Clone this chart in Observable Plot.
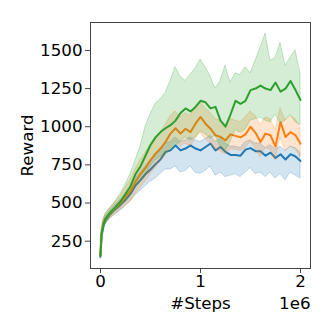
<!DOCTYPE html>
<html>
<head>
<meta charset="utf-8">
<script src="https://cdn.jsdelivr.net/npm/d3@7"></script>
<script src="https://cdn.jsdelivr.net/npm/@observablehq/plot@0.6"></script>
<style>
  html, body { margin: 0; padding: 0; background: #fff; }
  #chart { width: 332px; height: 332px; }
  #chart svg, #chart svg text, #chart svg g { font-family: "DejaVu Sans", sans-serif !important; }
</style>
</head>
<body>
<div id="chart"></div>
<script>
// steps in millions
const steps = [0, 0.01, 0.03, 0.05, 0.1, 0.15, 0.2, 0.25, 0.3, 0.35, 0.4, 0.45, 0.5, 0.55, 0.6, 0.65, 0.7, 0.75, 0.8, 0.85, 0.9, 0.95, 1.0, 1.05, 1.1, 1.15, 1.2, 1.25, 1.3, 1.35, 1.4, 1.45, 1.5, 1.55, 1.6, 1.65, 1.7, 1.75, 1.8, 1.85, 1.9, 1.95, 2.0];

const blueMean = [150, 280, 350, 385, 430, 460, 490, 520, 560, 615, 650, 690, 720, 755, 785, 835, 845, 878, 845, 857, 878, 857, 845, 867, 890, 845, 867, 835, 815, 815, 810, 850, 860, 840, 840, 810, 830, 795, 820, 785, 820, 805, 775];
const blueHi   = [165, 305, 375, 410, 455, 490, 520, 555, 600, 660, 700, 740, 780, 810, 840, 890, 900, 930, 900, 910, 930, 910, 900, 920, 940, 900, 920, 890, 870, 870, 860, 900, 910, 890, 890, 860, 880, 850, 870, 840, 870, 860, 830];
const blueLo   = [135, 255, 325, 360, 400, 425, 450, 480, 510, 550, 580, 610, 640, 660, 690, 720, 720, 740, 700, 710, 740, 700, 690, 710, 740, 680, 700, 670, 680, 690, 670, 700, 730, 690, 700, 670, 700, 660, 690, 650, 700, 680, 660];

const orangeMean = [160, 300, 370, 395, 435, 470, 500, 540, 580, 640, 690, 730, 780, 824, 857, 900, 955, 990, 955, 987, 965, 1020, 1064, 1020, 987, 944, 933, 911, 950, 940, 930, 950, 1000, 960, 900, 955, 944, 870, 1030, 933, 965, 944, 889];
const orangeHi   = [175, 330, 400, 425, 470, 510, 545, 600, 650, 720, 780, 830, 880, 930, 960, 1010, 1070, 1100, 1060, 1090, 1070, 1120, 1160, 1120, 1090, 1050, 1040, 1010, 1050, 1040, 1030, 1060, 1100, 1070, 1010, 1060, 1050, 980, 1120, 1040, 1070, 1050, 990];
const orangeLo   = [145, 270, 340, 365, 400, 430, 455, 480, 510, 560, 600, 640, 690, 730, 770, 810, 860, 900, 870, 890, 870, 920, 960, 920, 890, 850, 840, 820, 850, 850, 840, 860, 900, 860, 800, 860, 850, 780, 930, 840, 870, 850, 800];

const greenMean = [155, 290, 360, 400, 440, 475, 510, 560, 610, 690, 740, 810, 880, 930, 965, 990, 1010, 1040, 1090, 1120, 1100, 1130, 1170, 1160, 1120, 1130, 1040, 1000, 1080, 1170, 1150, 1170, 1240, 1250, 1270, 1250, 1240, 1290, 1230, 1250, 1300, 1240, 1175];
const greenHi   = [170, 320, 390, 430, 470, 510, 560, 620, 690, 780, 870, 1000, 1080, 1150, 1180, 1220, 1300, 1390, 1330, 1300, 1340, 1380, 1440, 1390, 1330, 1250, 1300, 1400, 1290, 1350, 1340, 1390, 1350, 1430, 1520, 1610, 1430, 1450, 1550, 1400, 1450, 1500, 1350];
const greenLo   = [140, 260, 330, 370, 410, 445, 470, 510, 550, 610, 640, 680, 740, 780, 800, 820, 840, 870, 900, 930, 910, 930, 970, 950, 920, 940, 870, 840, 900, 980, 960, 980, 1040, 1050, 1060, 1040, 1030, 1080, 1020, 1040, 1080, 1030, 1010];

const xTicks = [0, 1e6, 2e6];
const xTickLabels = ["0", "1", "2"];
const yTicks = [250, 500, 750, 1000, 1250, 1500];

const series = [
  {name: "blue", color: "#1f77b4", mean: blueMean, lo: blueLo, hi: blueHi},
  {name: "orange", color: "#ff7f0e", mean: orangeMean, lo: orangeLo, hi: orangeHi},
  {name: "green", color: "#2ca02c", mean: greenMean, lo: greenLo, hi: greenHi}
];

const marks = [];
for (const s of series) {
  const rows = steps.map((st, i) => ({x: st * 1e6, m: s.mean[i], lo: s.lo[i], hi: s.hi[i]}));
  marks.push(Plot.areaY(rows, {x: "x", y1: "lo", y2: "hi", fill: s.color, fillOpacity: 0.2, stroke: s.color, strokeOpacity: 0.25, strokeWidth: 1}));
  marks.push(Plot.line(rows, {x: "x", y: "m", stroke: s.color, strokeWidth: 2}));
}

const FS = 16.67;
const chart = Plot.plot({
  width: 332,
  height: 332,
  marginLeft: 90,
  marginRight: 22,
  marginTop: 22,
  marginBottom: 64,
  style: "font-family: 'DejaVu Sans', sans-serif; font-size: 16.67px; color: #000; background: #fff;",
  x: {domain: [-0.1e6, 2.1e6]},
  y: {domain: [71, 1683]},
  marks: [
    ...marks,
    Plot.frame({stroke: "#444", strokeWidth: 1}),
    Plot.axisX({ticks: xTicks, tickFormat: d => xTickLabels[xTicks.indexOf(d)], tickSize: 5, tickPadding: 2, label: null, stroke: "#444", fontSize: FS}),
    Plot.axisY({ticks: yTicks, tickFormat: d => String(d), tickSize: 5, tickPadding: 3, label: null, stroke: "#444", fontSize: FS}),
    Plot.text(["#Steps"], {frameAnchor: "bottom", dy: 35, text: d => d, textAnchor: "middle", lineAnchor: "middle", fontSize: FS}),
    Plot.text(["1e6"], {frameAnchor: "bottom-right", dy: 35, text: d => d, textAnchor: "end", lineAnchor: "middle", fontSize: FS}),
    Plot.text(["Reward"], {frameAnchor: "left", dx: -63, rotate: -90, text: d => d, textAnchor: "middle", lineAnchor: "middle", fontSize: FS})
  ]
});
document.getElementById("chart").appendChild(chart);
</script>
</body>
</html>
